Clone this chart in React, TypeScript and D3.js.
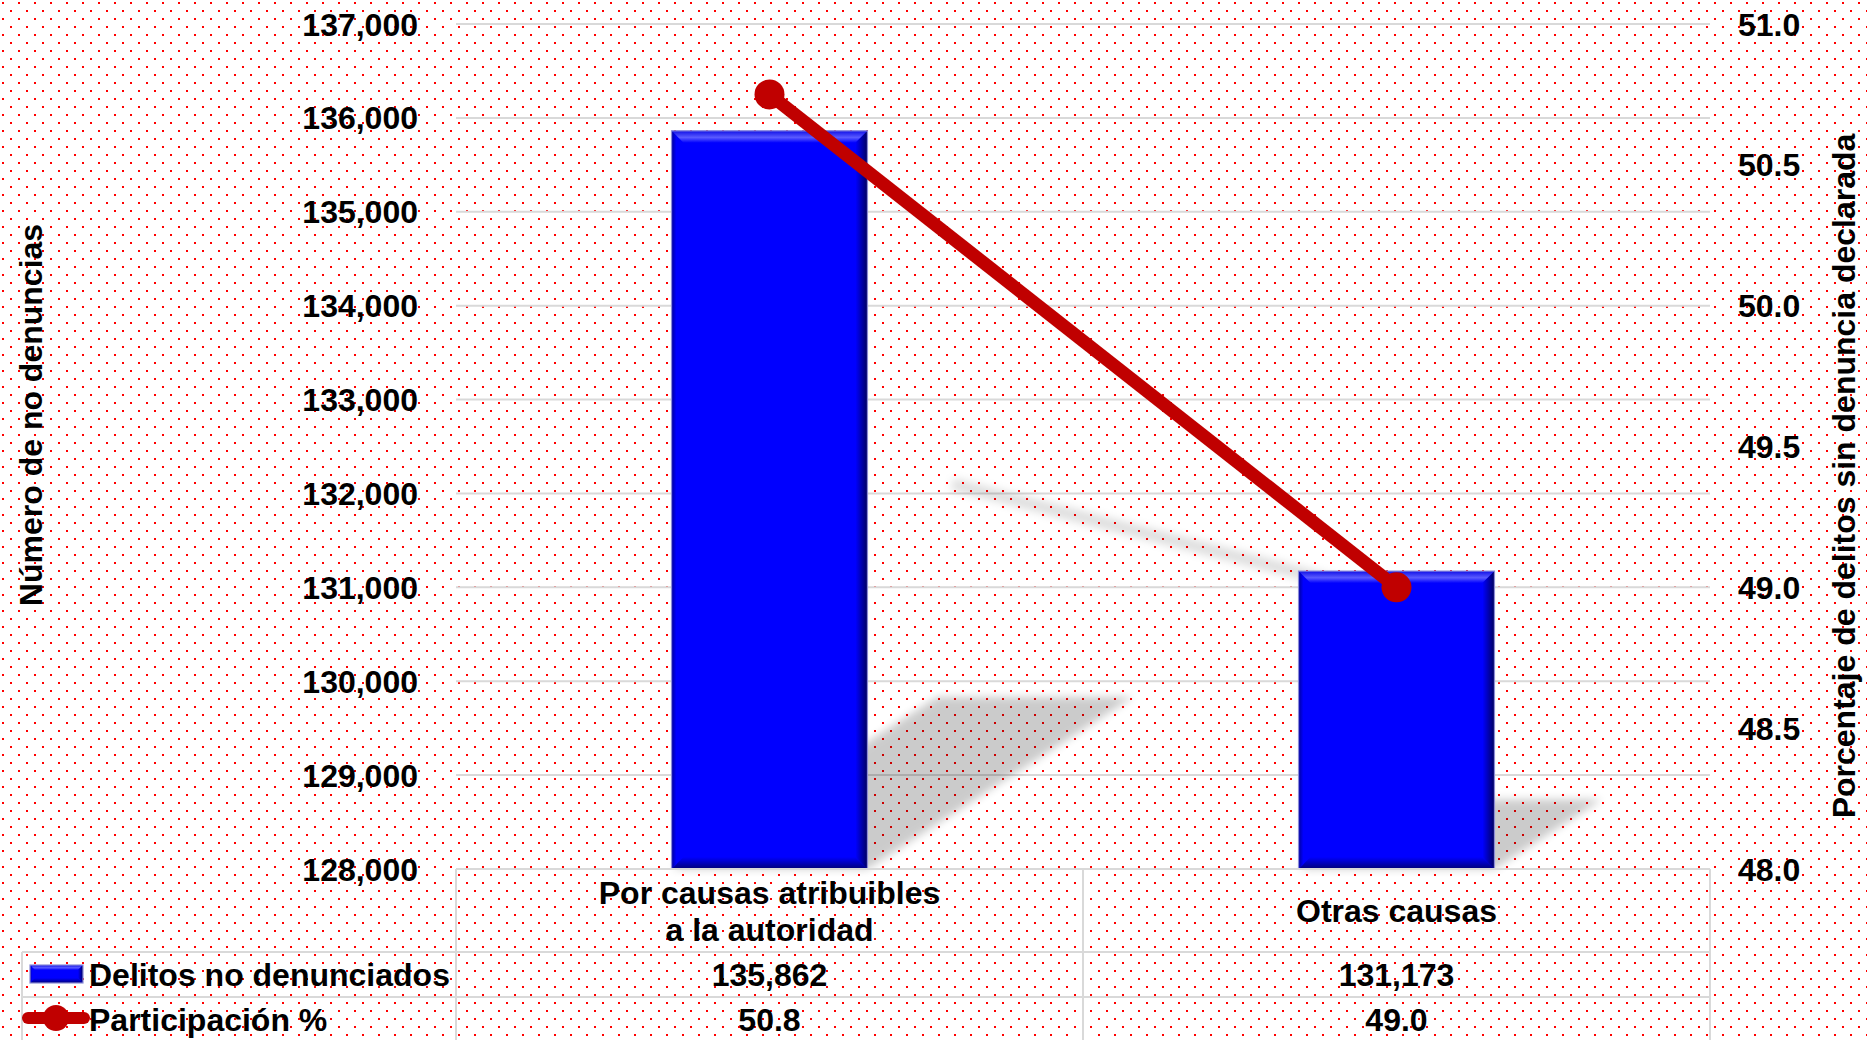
import React from 'react';
import * as d3 from 'd3';

const W = 1867;
const H = 1040;

// data
const categories = ['Por causas atribuibles a la autoridad', 'Otras causas'];
const categoryLines = [['Por causas atribuibles', 'a la autoridad'], ['Otras causas']];
const delitos = [135862, 131173];
const participacion = [50.75, 49.0];
const seriesNames = ['Delitos no denunciados', 'Participación %'];
const leftTicks = [128000, 129000, 130000, 131000, 132000, 133000, 134000, 135000, 136000, 137000];
const rightTicks = [48.0, 48.5, 49.0, 49.5, 50.0, 50.5, 51.0];

const FONT = '"Liberation Sans", Arial, sans-serif';
const FS = 32;
const GRID = '#d9d9d9';
const RED = '#c00000';

const plot = { left: 456, right: 1710, top: 24, bottom: 869 };
const rows = { head: 952, r1: 997, r2: 1041 };
const tableLeft = 22;

const x = d3.scaleBand<string>().domain(categories).range([plot.left, plot.right]).padding(0);
const yL = d3.scaleLinear().domain([128000, 137000]).range([plot.bottom, plot.top]);
const yR = d3.scaleLinear().domain([48, 51]).range([plot.bottom, plot.top]);
const barW = x.bandwidth() / 3.2;
const fmtInt = d3.format(',');
const fmt1 = d3.format('.1f');

// perspective shadow factors
const kx = 0.36;
const ky = 0.233;

const BevelBar = ({ x0, y0, w, h, b }: { x0: number; y0: number; w: number; h: number; b: number }) => {
  const x1 = x0 + w;
  const y1 = y0 + h;
  return (
    <g>
      <rect x={x0} y={y0} width={w} height={h} fill="#0000ff" />
      <polygon points={`${x0},${y0} ${x1},${y0} ${x1 - b},${y0 + b} ${x0 + b},${y0 + b}`} fill="url(#gTop)" />
      <polygon points={`${x1},${y0} ${x1},${y1} ${x1 - b},${y1 - b} ${x1 - b},${y0 + b}`} fill="url(#gRight)" />
      <polygon points={`${x0},${y1} ${x1},${y1} ${x1 - b},${y1 - b} ${x0 + b},${y1 - b}`} fill="url(#gBottom)" />
      <polygon points={`${x0},${y0} ${x0},${y1} ${x0 + b * 0.4},${y1 - b * 0.4} ${x0 + b * 0.4},${y0 + b * 0.4}`} fill="url(#gLeft)" />
      <rect x={x0} y={y0} width={w} height={h} fill="none" stroke="#8c8cd8" strokeWidth={1.2} />
    </g>
  );
};

const App = () => {
  const cx = (c: string) => (x(c) as number) + x.bandwidth() / 2;
  const linePts: [number, number][] = categories.map((c, i) => [cx(c), yR(participacion[i])]);
  const markerR = 15;
  const anchor = d3.max(linePts, (p) => p[1]) as number + markerR;
  const shadowPts: [number, number][] = linePts.map(([px, py]) => {
    const h = anchor - py;
    return [px + kx * h, anchor - ky * h];
  });
  const lineGen = d3.line();

  return (
    <svg width={W} height={H} style={{ position: 'absolute', left: 0, top: 0 }} fontFamily={FONT} fontWeight="bold">
      <defs>
        <pattern id="dots" width={16} height={16} patternUnits="userSpaceOnUse">
          <rect x={0} y={0} width={16} height={16} fill="#fff" />
          <rect x={2} y={2} width={2} height={2} fill="#ff0000" />
          <rect x={10} y={10} width={2} height={2} fill="#ff0000" />
        </pattern>
        <filter id="blur" x="-20%" y="-20%" width="140%" height="140%">
          <feGaussianBlur stdDeviation={4} />
        </filter>
        <linearGradient id="gTop" x1="0" y1="0" x2="0" y2="1">
          <stop offset="0" stopColor="#1010e8" />
          <stop offset="0.55" stopColor="#5a5aff" />
          <stop offset="1" stopColor="#0000ff" />
        </linearGradient>
        <linearGradient id="gRight" x1="0" y1="0" x2="1" y2="0">
          <stop offset="0" stopColor="#0000ff" />
          <stop offset="1" stopColor="#000060" />
        </linearGradient>
        <linearGradient id="gBottom" x1="0" y1="0" x2="0" y2="1">
          <stop offset="0" stopColor="#0000ff" />
          <stop offset="1" stopColor="#000078" />
        </linearGradient>
        <linearGradient id="gLeft" x1="0" y1="0" x2="1" y2="0">
          <stop offset="0" stopColor="#00009a" />
          <stop offset="1" stopColor="#0000ff" />
        </linearGradient>
      </defs>

      <rect x={0} y={0} width={W} height={H} fill="url(#dots)" />

      {/* gridlines */}
      {leftTicks.map((t) => (
        <line key={t} x1={plot.left} x2={plot.right} y1={yL(t)} y2={yL(t)} stroke={GRID} strokeWidth={2} />
      ))}

      {/* bar shadows */}
      {categories.map((c, i) => {
        const x0 = cx(c) - barW / 2;
        const x1 = cx(c) + barW / 2;
        const h = plot.bottom - yL(delitos[i]);
        const b = plot.bottom;
        return (
          <polygon
            key={c}
            points={`${x0},${b} ${x1},${b} ${x1 + kx * h},${b - ky * h} ${x0 + kx * h},${b - ky * h}`}
            fill="#000"
            opacity={0.2}
            filter="url(#blur)"
          />
        );
      })}

      {/* line shadow */}
      <path d={lineGen(shadowPts) as string} stroke="#000" strokeOpacity={0.13} strokeWidth={12} fill="none" filter="url(#blur)" />

      {/* bars */}
      {categories.map((c, i) => (
        <BevelBar key={c} x0={cx(c) - barW / 2} y0={yL(delitos[i])} w={barW} h={plot.bottom - yL(delitos[i])} b={12} />
      ))}

      {/* line + markers */}
      <path d={lineGen(linePts) as string} stroke={RED} strokeWidth={13} fill="none" />
      {linePts.map(([px, py], i) => (
        <circle key={i} cx={px} cy={py} r={markerR} fill={RED} />
      ))}

      {/* left axis labels */}
      {leftTicks.map((t) => (
        <text key={t} x={418} y={yL(t)} dy="0.36em" textAnchor="end" fontSize={FS}>
          {fmtInt(t)}
        </text>
      ))}
      {/* right axis labels */}
      {rightTicks.map((t) => (
        <text key={t} x={1738} y={yR(t)} dy="0.36em" textAnchor="start" fontSize={FS}>
          {fmt1(t)}
        </text>
      ))}

      {/* axis titles */}
      <text transform="translate(42,415) rotate(-90)" textAnchor="middle" fontSize={FS}>
        Número de no denuncias
      </text>
      <text transform="translate(1855,476) rotate(-90)" textAnchor="middle" fontSize={FS}>
        Porcentaje de delitos sin denuncia declarada
      </text>

      {/* data table */}
      <g stroke={GRID} strokeWidth={2} fill="none">
        <line x1={plot.left} x2={plot.right} y1={plot.bottom} y2={plot.bottom} />
        <line x1={tableLeft} x2={plot.right} y1={rows.head} y2={rows.head} />
        <line x1={tableLeft} x2={plot.right} y1={rows.r1} y2={rows.r1} />
        <line x1={tableLeft} x2={plot.right} y1={rows.r2} y2={rows.r2} />
        <line x1={tableLeft} x2={tableLeft} y1={rows.head} y2={rows.r2} />
        {categories.map((c) => (
          <line key={c} x1={x(c) as number} x2={x(c) as number} y1={plot.bottom} y2={rows.r2} />
        ))}
        <line x1={plot.right} x2={plot.right} y1={plot.bottom} y2={rows.r2} />
      </g>

      {categories.map((c, i) => {
        const lines = categoryLines[i];
        const mid = (plot.bottom + rows.head) / 2;
        const lh = 37;
        return (
          <g key={c}>
            {lines.map((l, j) => (
              <text key={j} x={cx(c)} y={mid + (j - (lines.length - 1) / 2) * lh} dy="0.36em" textAnchor="middle" fontSize={FS}>
                {l}
              </text>
            ))}
            <text x={cx(c)} y={(rows.head + rows.r1) / 2} dy="0.36em" textAnchor="middle" fontSize={FS}>
              {fmtInt(delitos[i])}
            </text>
            <text x={cx(c)} y={(rows.r1 + rows.r2) / 2} dy="0.36em" textAnchor="middle" fontSize={FS}>
              {fmt1(participacion[i])}
            </text>
          </g>
        );
      })}

      {/* legend keys */}
      <BevelBar x0={30} y0={965} w={53} h={18} b={5} />
      <line x1={28} x2={84} y1={1018} y2={1018} stroke={RED} strokeWidth={12} strokeLinecap="round" />
      <circle cx={56} cy={1018} r={13} fill={RED} />
      <text x={89} y={(rows.head + rows.r1) / 2} dy="0.36em" fontSize={FS}>
        {seriesNames[0]}
      </text>
      <text x={89} y={(rows.r1 + rows.r2) / 2} dy="0.36em" fontSize={FS}>
        {seriesNames[1]}
      </text>
    </svg>
  );
};

export default App;
